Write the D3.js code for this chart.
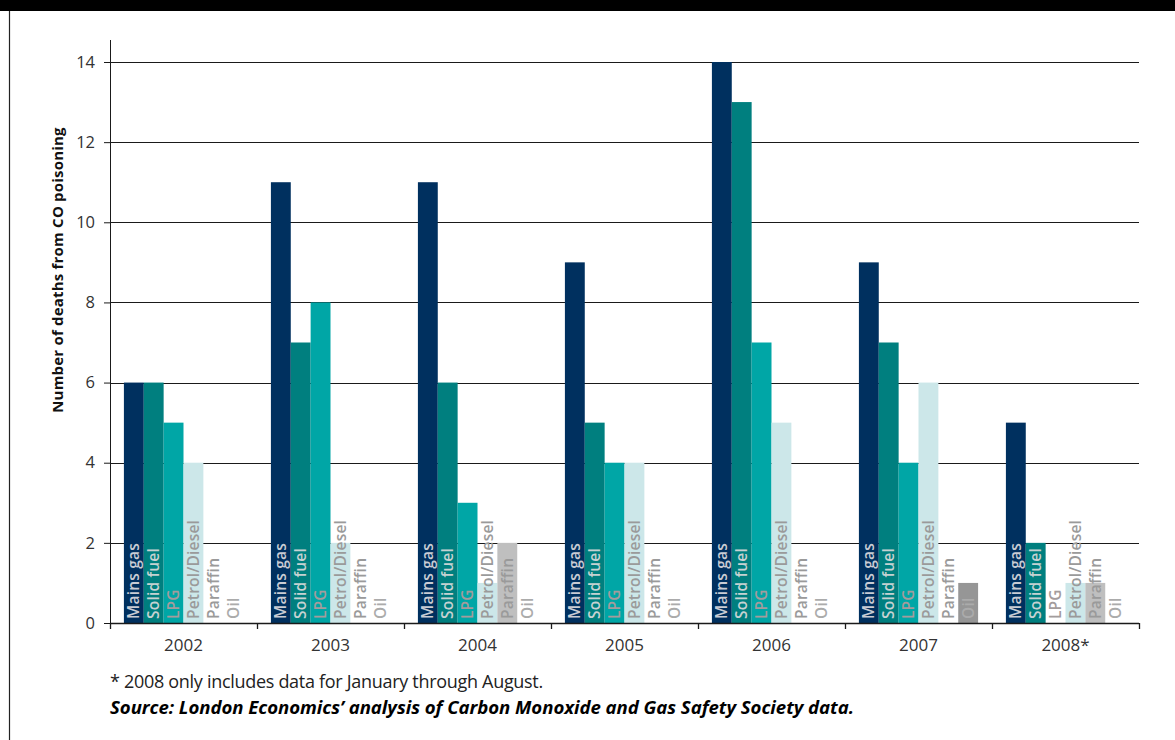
<!DOCTYPE html>
<html>
<head>
<meta charset="utf-8">
<script src="https://cdn.jsdelivr.net/npm/d3@7"></script>
<style>
  body { margin: 0; background: #fff; }
  svg { display: block; font-family: "Open Sans", "Noto Sans", sans-serif; }
</style>
</head>
<body>
<svg width="1175" height="740"></svg>
<script>
var years = ["2002", "2003", "2004", "2005", "2006", "2007", "2008*"];
var series = ["Mains gas", "Solid fuel", "LPG", "Petrol/Diesel", "Paraffin", "Oil"];
var mainsGas     = [6, 11, 11, 9, 14, 9, 5];
var solidFuel    = [6, 7, 6, 5, 13, 7, 2];
var lpg          = [5, 8, 3, 4, 7, 4, 0];
var petrolDiesel = [4, 2, 1, 4, 5, 6, 1];
var paraffin     = [0, 0, 2, 0, 0, 0, 1];
var oil          = [0, 0, 0, 0, 0, 1, 0];
var yTicks = [0, 2, 4, 6, 8, 10, 12, 14];

var colors = ["#00305f", "#007f7f", "#00a6a6", "#cce7e9", "#bfbfbf", "#969696"];
var labelColors = ["#c9ccd4", "#c6d2d2", "#a39c9c", "#9a9a9a", "#9a9a9a", "#ababab"];

var values = [mainsGas, solidFuel, lpg, petrolDiesel, paraffin, oil];

var svg = d3.select("svg");

// frame: black band on top, rule down the left side
svg.append("rect").attr("x", 0).attr("y", 0).attr("width", 1175).attr("height", 11).attr("fill", "#000");
svg.append("line").attr("x1", 9.5).attr("x2", 9.5).attr("y1", 11).attr("y2", 740)
    .attr("stroke", "#222").attr("stroke-width", 1.2);

var margin = {top: 62, left: 110, right: 36, bottom: 117};
var width = 1175 - margin.left - margin.right;
var height = 740 - margin.top - margin.bottom;

var g = svg.append("g").attr("transform", "translate(" + margin.left + "," + margin.top + ")");

var x = d3.scaleBand().domain(years).range([0, width]);
var xs = d3.scaleBand().domain(series).range([0, x.bandwidth()]).paddingOuter(0.7);
var y = d3.scaleLinear().domain([0, 14]).range([height, 0]);

// gridlines
g.append("g").selectAll("line").data(yTicks.slice(1)).enter().append("line")
    .attr("x1", 0).attr("x2", width)
    .attr("y1", function(d) { return Math.round(y(d)) + 0.5; })
    .attr("y2", function(d) { return Math.round(y(d)) + 0.5; })
    .attr("stroke", "#1a1a1a").attr("stroke-width", 1);

// bars
var rows = [];
years.forEach(function(yr, i) {
  series.forEach(function(s, j) {
    rows.push({year: yr, series: s, idx: j, value: values[j][i]});
  });
});

var grp = g.append("g").selectAll("g").data(rows).enter().append("g")
    .attr("transform", function(d) { return "translate(" + (x(d.year) + xs(d.series)) + ",0)"; });

grp.append("rect")
    .attr("x", 0)
    .attr("width", xs.bandwidth())
    .attr("y", function(d) { return y(d.value); })
    .attr("height", function(d) { return height - y(d.value); })
    .attr("fill", function(d) { return colors[d.idx]; });

grp.append("text")
    .attr("transform", "translate(" + (xs.bandwidth() / 2) + "," + (height - 4) + ") rotate(-90)")
    .attr("dy", "0.36em")
    .attr("font-size", 15.5)
    .attr("font-weight", 600)
    .attr("letter-spacing", "0.2px")
    .attr("fill", function(d) { return labelColors[d.idx]; })
    .text(function(d) { return d.series; });

// y axis
var yAxis = g.append("g").call(d3.axisLeft(y).tickValues(yTicks).tickSize(6).tickPadding(9));
yAxis.select(".domain").remove();
yAxis.selectAll("line").attr("stroke", "#1a1a1a");
yAxis.selectAll("text").attr("font-size", 16.5).attr("fill", "#333").attr("font-family", "Open Sans, sans-serif");
g.append("line").attr("x1", 0.5).attr("x2", 0.5).attr("y1", y(14) - 22).attr("y2", height + 6)
    .attr("stroke", "#1a1a1a");

// x axis baseline, ticks at group edges, year labels
g.append("line").attr("x1", 0).attr("x2", width).attr("y1", height + 0.5).attr("y2", height + 0.5)
    .attr("stroke", "#1a1a1a").attr("stroke-width", 1.3);
var edges = years.map(function(d) { return x(d); }).concat([width]);
g.append("g").selectAll("line").data(edges).enter().append("line")
    .attr("x1", function(d) { return Math.round(d) + 0.5; })
    .attr("x2", function(d) { return Math.round(d) + 0.5; })
    .attr("y1", height).attr("y2", height + 6)
    .attr("stroke", "#1a1a1a").attr("stroke-width", 1.3);
g.append("g").selectAll("text").data(years).enter().append("text")
    .attr("x", function(d) { return x(d) + x.bandwidth() / 2; })
    .attr("y", height + 28)
    .attr("text-anchor", "middle")
    .attr("font-size", 17)
    .attr("fill", "#333")
    .text(function(d) { return d; });

// y axis title
svg.append("text")
    .attr("transform", "translate(63," + 270 + ") rotate(-90)")
    .attr("text-anchor", "middle")
    .attr("font-size", 15)
    .attr("font-weight", 700)
    .attr("letter-spacing", "0.2px")
    .attr("fill", "#111")
    .text("Number of deaths  from  CO poisoning");

// notes
svg.append("text").attr("x", 110).attr("y", 688)
    .attr("font-size", 18).attr("fill", "#222")
    .attr("font-family", "Open Sans, sans-serif")
    .attr("letter-spacing", "-0.3px")
    .text("* 2008 only includes data for January through August.");
svg.append("text").attr("x", 110).attr("y", 714)
    .attr("font-size", 18.6).attr("font-weight", 700).attr("font-style", "italic").attr("fill", "#000")
    .attr("letter-spacing", "-0.05px")
    .text("Source: London Economics’ analysis of Carbon Monoxide and Gas Safety Society data.");
</script>
</body>
</html>
